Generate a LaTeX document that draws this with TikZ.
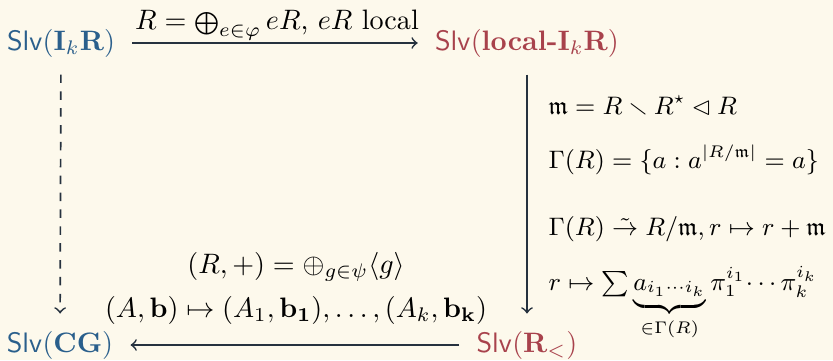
\documentclass[tikz,border=0pt]{standalone}
\usepackage{amsmath,amssymb}
\usepackage{graphicx}
\definecolor{paper}{HTML}{FDF9EC}
\definecolor{slvblue}{HTML}{2A5F8C}
\definecolor{slvred}{HTML}{A8424C}
\definecolor{ink}{HTML}{26323F}
\newcommand{\Slv}{\mathsf{Slv}}
\newcommand{\dsum}{\mathop{\scalebox{0.8}{$\bigoplus$}}\nolimits}
\tikzset{
  bluecat/.style={text=slvblue, inner sep=2pt},
  redcat/.style={text=slvred, inner sep=2pt},
  lab/.style={text=black, inner sep=0pt},
  sidelab/.style={lab, anchor=base west, font=\small},
  arr/.style={->, semithick, draw=ink, shorten >=4pt, shorten <=4pt},
}
\begin{document}
\begin{tikzpicture}[x=0.125mm, y=-0.125mm]
    \fill[paper] (0,0) rectangle (833,360);
    \useasboundingbox (0,0) rectangle (833,360);
    % the four categories
    \node[bluecat] (IkR) at (61,43) {$\Slv(\mathbf{I}_k\mathbf{R})$};
    \node[redcat] (loc) at (527,43) {$\Slv(\textbf{local-}\mathbf{I}_k\mathbf{R})$};
    \node[bluecat] (CG) at (60,345) {$\Slv(\mathbf{CG})$};
    \node[redcat] (Rlt) at (527,345) {$\Slv(\mathbf{R}_<)$};
    % arrows
    \draw[arr] (IkR) -- (loc);
    \draw[arr] (loc) -- (Rlt);
    \draw[arr] (Rlt) -- (CG);
    \draw[arr, dashed] (IkR) -- (CG);
    % labels
    \node[lab, anchor=base] (top) at (277,29) {$R = \dsum_{e\in\varphi} eR$, $eR$ local};
    \node[sidelab] (r1) at (548,114) {$\mathfrak{m} = R \smallsetminus R^\star \lhd R$};
    \node[sidelab] (r2) at (548,168) {$\Gamma(R) = \{a : a^{|R/\mathfrak{m}|} = a\}$};
    \node[sidelab] (r3) at (548,235) {$\Gamma(R) \mathrel{\tilde{\to}} R/\mathfrak{m}, r \mapsto r + \mathfrak{m}$};
    \node[sidelab] (r4) at (548,290) {$r \mapsto \sum \underbrace{a_{i_1\cdots i_k}}_{\in\Gamma(R)} \pi_1^{i_1}\!\cdots\pi_k^{i_k}$};
    \node[lab, anchor=base] (b1) at (296,273) {$(R,+) = \oplus_{g\in\psi}\langle g\rangle$};
    \node[lab, anchor=base] (b2) at (296,317) {$(A,\mathbf{b}) \mapsto (A_1,\mathbf{b_1}),\ldots,(A_k,\mathbf{b_k})$};
\end{tikzpicture}
\end{document}
